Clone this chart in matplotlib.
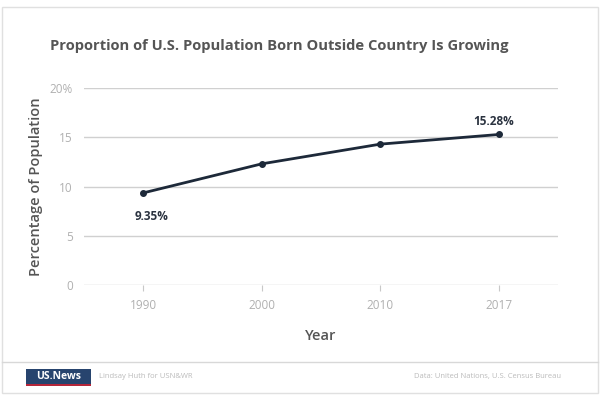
import matplotlib.pyplot as plt
from matplotlib.patches import Rectangle

# Data
years = ["1990", "2000", "2010", "2017"]
share = [9.35, 12.3, 14.3, 15.28]
y_ticks = [0, 5, 10, 15, 20]
y_tick_labels = ["0", "5", "10", "15", "20%"]

plt.rcParams['font.family'] = ['Open Sans', 'DejaVu Sans']

fig = plt.figure(figsize=(6, 4), dpi=100)
ax = fig.add_axes([0.14, 0.2875, 0.79, 0.4925])

x = list(range(len(years)))
ax.plot(x, share, color='#1d2939', linewidth=2, marker='o', markersize=4, zorder=3)

# End labels
ax.annotate(f"{share[0]:.2f}%", (x[0], share[0]), xytext=(6, -12), textcoords='offset points',
            ha='center', va='top', fontsize=8.5, fontweight='bold', color='#2b3340')
ax.annotate(f"{share[-1]:.2f}%", (x[-1], share[-1]), xytext=(-4, 5), textcoords='offset points',
            ha='center', va='bottom', fontsize=8.5, fontweight='bold', color='#2b3340')

ax.set_xlim(-0.5, 3.5)
ax.set_ylim(0, 20)
ax.set_xticks(x)
ax.set_xticklabels(years)
ax.set_yticks(y_ticks)
ax.set_yticklabels(y_tick_labels)
ax.grid(axis='y', color='#d0d0d0', linewidth=1)
ax.set_axisbelow(True)
for s in ax.spines.values():
    s.set_visible(False)
ax.tick_params(axis='y', length=0, pad=8, labelsize=8.5, labelcolor='#b0b0b0')
ax.tick_params(axis='x', length=4, color='#c8c8c8', pad=6, labelsize=8.5, labelcolor='#b0b0b0')

ax.set_xlabel("Year", fontsize=10.5, fontweight='semibold', color='#555555', labelpad=12)
ax.set_ylabel("Percentage of Population", fontsize=10.5, fontweight='semibold',
              color='#555555', labelpad=5)

fig.text(0.083, 0.885, "Proportion of U.S. Population Born Outside Country Is Growing",
         fontsize=10.6, fontweight='bold', color='#555555', va='center')

# Frame and footer
fig.patches.append(Rectangle((0.004, 0.018), 0.992, 0.965, transform=fig.transFigure,
                             fill=False, edgecolor='#e0e0e0', linewidth=1))
fig.add_artist(plt.Line2D([0.004, 0.996], [0.095, 0.095], transform=fig.transFigure,
                          color='#d8d8d8', linewidth=1))
fig.patches.append(Rectangle((0.043, 0.04), 0.108, 0.038, transform=fig.transFigure,
                             facecolor='#27446e', edgecolor='none'))
fig.patches.append(Rectangle((0.043, 0.035), 0.108, 0.006, transform=fig.transFigure,
                             facecolor='#b5263a', edgecolor='none'))
fig.text(0.097, 0.059, "US.News", fontsize=7.5, fontweight='bold', color='white',
         ha='center', va='center')
fig.text(0.165, 0.059, "Lindsay Huth for USN&WR", fontsize=5.5, color='#bbbbbb', va='center')
fig.text(0.935, 0.059, "Data: United Nations, U.S. Census Bureau", fontsize=5.5, color='#bbbbbb',
         va='center', ha='right')

fig.savefig("out.png", dpi=100)
